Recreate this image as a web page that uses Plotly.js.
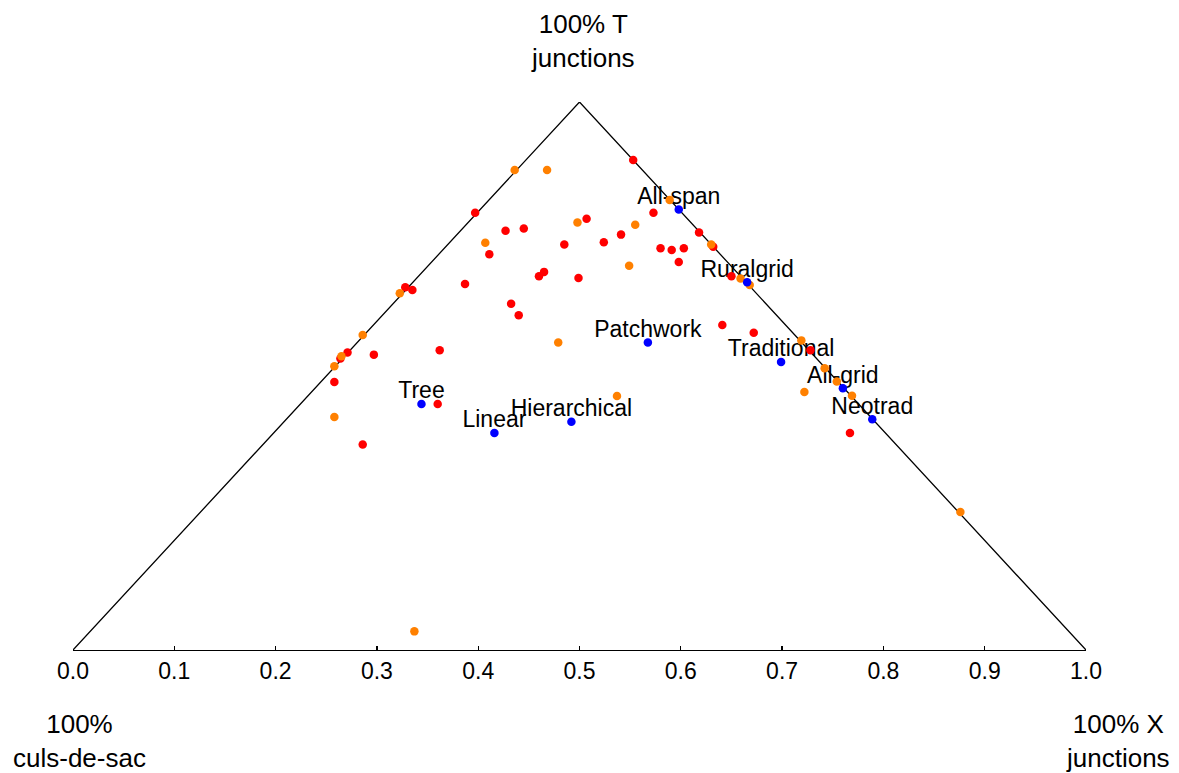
<!DOCTYPE html>
<html>
<head>
<meta charset="utf-8">
<script src="https://cdn.plot.ly/plotly-3.0.1.min.js"></script>
<style>
  html, body { margin: 0; padding: 0; background: #ffffff; }
  #chart { width: 1179px; height: 773px; }
</style>
</head>
<body>
<div id="chart"></div>
<script>
// ---- Data ----
// Horizontal position along the base axis (0 = all culs-de-sac, 1 = all X junctions),
// vertical position = share of T junctions (apex = 1).
const redX = [0.553, 0.397, 0.507, 0.427, 0.445, 0.411, 0.485, 0.524, 0.541, 0.573,
              0.618, 0.632, 0.580, 0.591, 0.603, 0.598, 0.465, 0.460, 0.499, 0.387,
              0.328, 0.335, 0.4325, 0.440, 0.650, 0.641, 0.672, 0.728, 0.271, 0.264,
              0.297, 0.362, 0.258, 0.360, 0.286, 0.767];
const redY = [0.894, 0.798, 0.787, 0.765, 0.769, 0.722, 0.740, 0.744, 0.758, 0.798,
              0.762, 0.736, 0.733, 0.730, 0.733, 0.708, 0.690, 0.682, 0.679, 0.668,
              0.662, 0.657, 0.632, 0.611, 0.682, 0.593, 0.579, 0.547, 0.543, 0.532,
              0.539, 0.547, 0.489, 0.449, 0.375, 0.396];

const orangeX = [0.436, 0.468, 0.498, 0.407, 0.555, 0.589, 0.630, 0.549, 0.3226, 0.659,
                 0.668, 0.286, 0.265, 0.258, 0.479, 0.719, 0.742, 0.754, 0.722, 0.769,
                 0.537, 0.258, 0.876, 0.337];
const orangeY = [0.876, 0.876, 0.780, 0.743, 0.776, 0.821, 0.740, 0.701, 0.651, 0.678,
                 0.666, 0.575, 0.536, 0.518, 0.561, 0.565, 0.514, 0.490, 0.471, 0.464,
                 0.4635, 0.425, 0.252, 0.034];

const blueLabels = ['All-span', 'Ruralgrid', 'Patchwork', 'Traditional', 'All-grid',
                    'Neotrad', 'Tree', 'Linear', 'Hierarchical'];
const blueX = [0.598, 0.6655, 0.5675, 0.699, 0.760, 0.789, 0.344, 0.416, 0.492];
const blueY = [0.804, 0.671, 0.561, 0.5255, 0.4775, 0.421, 0.449, 0.396, 0.4166];

const triangleX = [0, 0.5, 1];
const triangleY = [0, 1, 0];

const tickVals = [0, 0.1, 0.2, 0.3, 0.4, 0.5, 0.6, 0.7, 0.8, 0.9, 1.0];
const tickText = ['0.0', '0.1', '0.2', '0.3', '0.4', '0.5', '0.6', '0.7', '0.8', '0.9', '1.0'];

const topLabel = '100% T<br>junctions';
const leftLabel = '100%<br>culs-de-sac';
const rightLabel = '100% X<br>junctions';

// ---- Chart ----
const FONT = 'Liberation Sans, Arial, Helvetica, sans-serif';

const traces = [
  {
    type: 'scatter', mode: 'lines', x: triangleX, y: triangleY,
    line: {color: '#000000', width: 1.3}, hoverinfo: 'skip', showlegend: false
  },
  {
    type: 'scatter', mode: 'text', x: blueX, y: blueY, text: blueLabels,
    textposition: 'top center',
    textfont: {family: FONT, size: 23, color: '#000000'},
    cliponaxis: false, hoverinfo: 'skip', showlegend: false
  },
  {
    type: 'scatter', mode: 'markers', x: redX, y: redY,
    marker: {color: '#ff0000', size: 8.5, line: {width: 0}},
    cliponaxis: false, showlegend: false
  },
  {
    type: 'scatter', mode: 'markers', x: orangeX, y: orangeY,
    marker: {color: '#ff8000', size: 8.5, line: {width: 0}},
    cliponaxis: false, showlegend: false
  },
  {
    type: 'scatter', mode: 'markers', x: blueX, y: blueY,
    marker: {color: '#0000ff', size: 8.5, line: {width: 0}},
    cliponaxis: false, showlegend: false
  }
];

const layout = {
  width: 1179, height: 773,
  margin: {l: 73, r: 93, t: 102, b: 123, pad: 0},
  paper_bgcolor: '#ffffff', plot_bgcolor: '#ffffff',
  showlegend: false,
  font: {family: FONT, color: '#000000'},
  xaxis: {
    range: [0, 1], showgrid: false, zeroline: false,
    showline: true, linecolor: '#000000', linewidth: 1.3,
    ticks: 'inside', ticklen: 4, tickwidth: 1.3, tickcolor: '#000000',
    tickvals: tickVals, ticktext: tickText,
    tickfont: {family: FONT, size: 23, color: '#000000'},
    fixedrange: true
  },
  xaxis2: {
    range: [0, 1], overlaying: 'x', anchor: 'y', side: 'bottom',
    showgrid: false, zeroline: false, showline: false,
    ticks: 'outside', ticklen: 5, tickwidth: 1.3, tickcolor: '#000000',
    tickvals: tickVals, showticklabels: false, fixedrange: true
  },
  yaxis: {
    range: [0, 1], visible: false, fixedrange: true
  },
  annotations: [
    {text: topLabel, xref: 'paper', yref: 'paper', x: 0.503, y: 1.111,
     xanchor: 'center', yanchor: 'middle', showarrow: false,
     font: {family: FONT, size: 26, color: '#000000'}},
    {text: leftLabel, xref: 'paper', yref: 'paper', x: 0.006, y: -0.166,
     xanchor: 'center', yanchor: 'middle', showarrow: false,
     font: {family: FONT, size: 26, color: '#000000'}},
    {text: rightLabel, xref: 'paper', yref: 'paper', x: 1.0316, y: -0.166,
     xanchor: 'center', yanchor: 'middle', showarrow: false,
     font: {family: FONT, size: 26, color: '#000000'}}
  ]
};

Plotly.newPlot('chart', traces, layout, {displayModeBar: false, staticPlot: true});
</script>
</body>
</html>
